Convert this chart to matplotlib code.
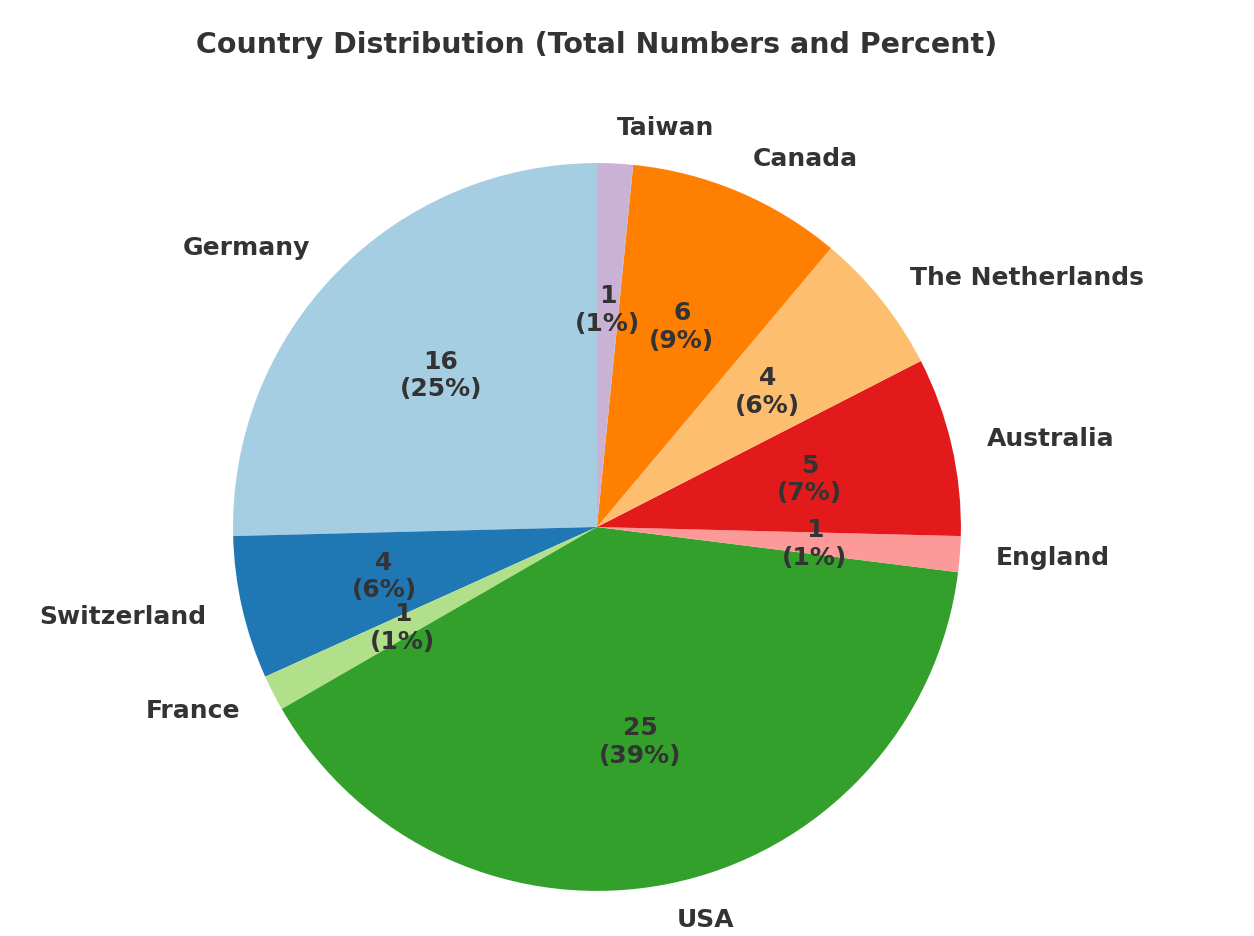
import numpy as np
import matplotlib.pyplot as plt

countries = ['Germany', 'Switzerland', 'France', 'USA', 'England',
             'Australia', 'The Netherlands', 'Canada', 'Taiwan']
counts = [16, 4, 1, 25, 1, 5, 4, 6, 1]
total = sum(counts)

colors = plt.cm.Paired(np.arange(len(counts)))


def fmt(pct):
    n = int(round(pct * total / 100.0))
    return '{}\n({}%)'.format(n, int(pct))


fig = plt.figure(figsize=(12.54, 9.37), dpi=100)
ax = fig.add_axes([0.1132, -0.049, 0.7257, 0.971])
wedges, texts, autotexts = ax.pie(counts, labels=countries, colors=colors,
                                  autopct=fmt, startangle=90,
                                  textprops={'fontsize': 18, 'fontweight': 'bold',
                                             'color': '#333333'})
ax.set_aspect('equal')
ax.set_xlim(-1.25, 1.25)
ax.set_ylim(-1.25, 1.25)
fig.text(0.476, 0.952, 'Country Distribution (Total Numbers and Percent)',
         fontsize=20.5, fontweight='bold', color='#333333',
         ha='center', va='center')
plt.savefig('out.png', dpi=100)
